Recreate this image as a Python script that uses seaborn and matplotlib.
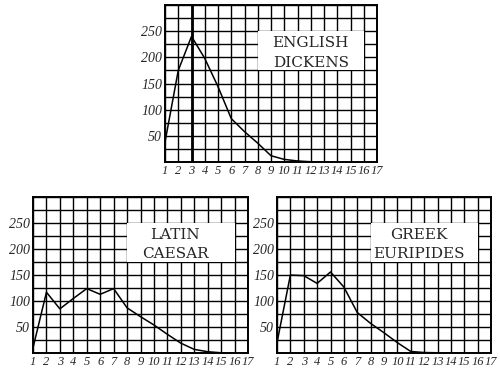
import numpy as np
import pandas as pd
import seaborn as sns
from matplotlib import pyplot as plt
from matplotlib.patches import Rectangle
from matplotlib.ticker import FixedLocator, FuncFormatter

sns.set_style("white")
plt.rcParams["font.family"] = ["Liberation Serif", "DejaVu Serif"]

# word length (letters) -> number of words
dickens_len = list(range(1, 14))
dickens_cnt = [38, 175, 240, 198, 144, 83, 58, 36, 12, 5, 2, 0.5, 0]

caesar_len = list(range(1, 17))
caesar_cnt = [10, 117, 85, 105, 124, 113, 124, 87, 70, 54, 36, 19, 7, 2.5, 0.5, 0]

euripides_len = list(range(1, 16))
euripides_cnt = [20, 150, 149, 134, 156, 127, 78, 57, 39, 20, 3, 1, 0.5, 0.3, 0]

panels = [
    ("ENGLISH", "DICKENS", dickens_len, dickens_cnt, [0.33, 0.5645, 0.424, 0.422], 12.0),
    ("LATIN", "CAESAR", caesar_len, caesar_cnt, [0.066, 0.051, 0.43, 0.419], 11.6),
    ("GREEK", "EURIPIDES", euripides_len, euripides_cnt, [0.554, 0.051, 0.428, 0.419], 11.6),
]

fig = plt.figure(figsize=(5, 3.72), dpi=100)

for lang, author, lens, cnts, rect, tx in panels:
    ax = fig.add_axes(rect)
    df = pd.DataFrame({"letters": lens, "words": cnts})
    sns.lineplot(data=df, x="letters", y="words", color="black", lw=1.1, ax=ax, zorder=3)

    ax.set_xlim(1, 17)
    ax.set_ylim(0, 300)
    ax.xaxis.set_major_locator(FixedLocator(np.arange(1, 18)))
    ax.yaxis.set_major_locator(FixedLocator(np.arange(0, 301, 25)))
    ax.yaxis.set_major_formatter(
        FuncFormatter(lambda v, _: f"{int(v)}" if v % 50 == 0 and 0 < v < 300 else "")
    )
    ax.set_axisbelow(True)
    ax.grid(True, color="black", lw=1.0)
    ax.tick_params(length=0, pad=2)
    for lab in ax.get_xticklabels():
        lab.set_fontstyle("italic")
        lab.set_fontsize(9)
    for lab in ax.get_yticklabels():
        lab.set_fontstyle("italic")
        lab.set_fontsize(10)
    for sp in ax.spines.values():
        sp.set_visible(True)
        sp.set_color("black")
        sp.set_linewidth(1.4)
    ax.set_xlabel("")
    ax.set_ylabel("")

    # label card over the grid
    ax.add_patch(Rectangle((8, 175), 8, 75, facecolor="white", edgecolor="none", zorder=1))
    ax.text(tx, 227, lang, ha="center", va="center", fontsize=11,
            family="DejaVu Serif", zorder=4)
    ax.text(tx, 190, author, ha="center", va="center", fontsize=11,
            family="DejaVu Serif", zorder=4)

    if lang == "ENGLISH":
        # heavy rule at the peak word length
        ax.axvline(lens[int(np.argmax(cnts))], color="black", lw=2.0, zorder=2)

plt.savefig("out.png", dpi=100)
